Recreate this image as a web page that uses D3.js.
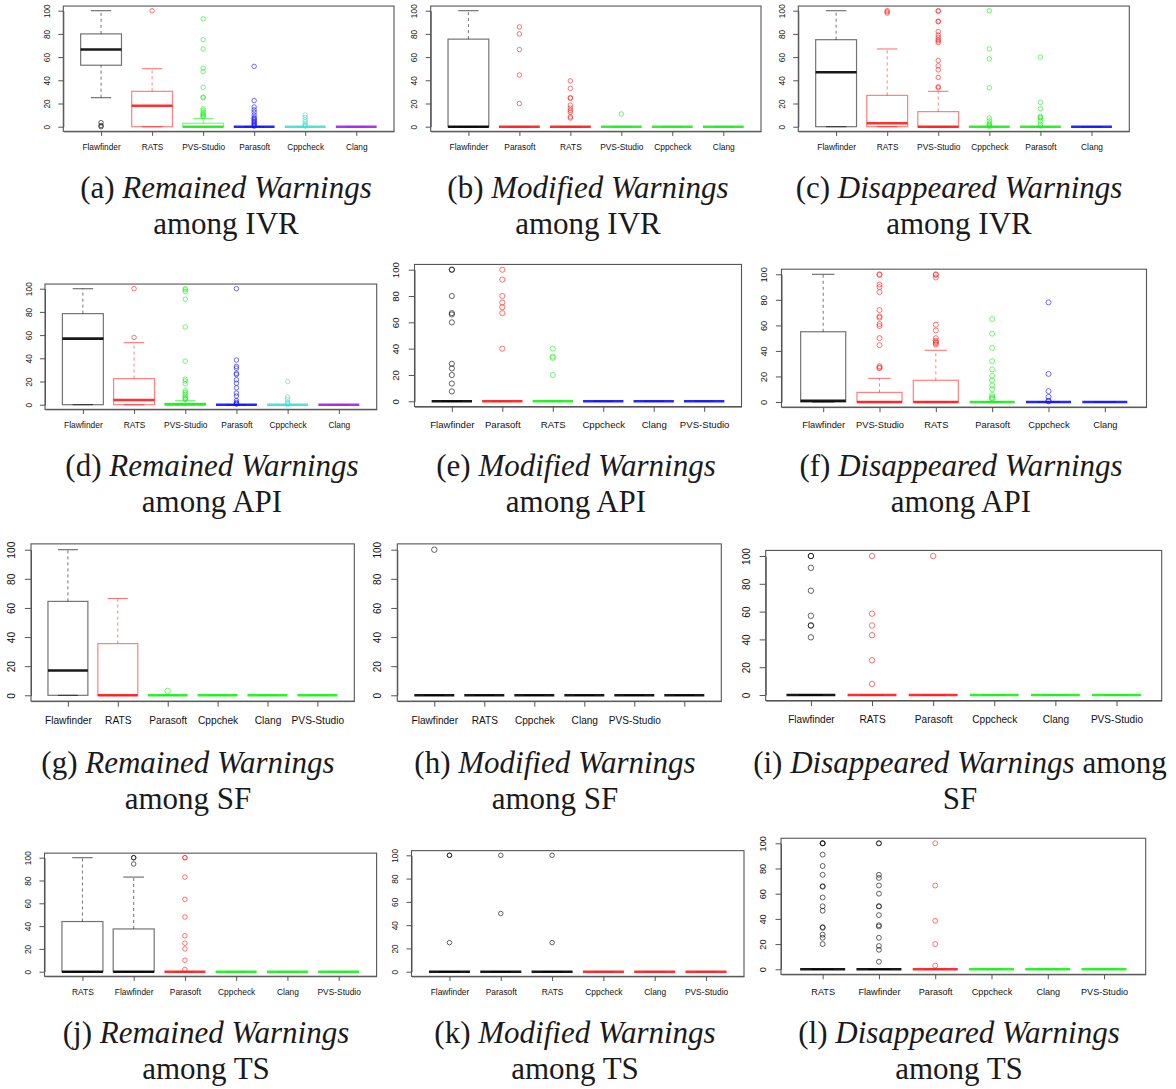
<!DOCTYPE html>
<html>
<head>
<meta charset="utf-8">
<script src="https://cdn.jsdelivr.net/npm/d3@7"></script>
<style>
body { margin: 0; background: #fff; }
svg text { font-family: "Liberation Sans", Arial, sans-serif; fill: #111; }
text.cap { font-family: "Liberation Serif", "Times New Roman", serif; font-size: 31px; fill: #1a1a1a; }
</style>
</head>
<body>
<svg id="fig" width="1176" height="1089"></svg>
<script>
// box stats are [lower whisker, q1, median, q3, upper whisker]
var yTicks = [0, 20, 40, 60, 80, 100];

// (a) Remained Warnings among IVR
var aCats = ["Flawfinder", "RATS", "PVS-Studio", "Parasoft", "Cppcheck", "Clang"];
var aStats = [[25, 53, 66.5, 80, 100], [0, 0, 18, 30.5, 50], [0, 0, 0, 3, 7], [0, 0, 0, 0, 0], [0, 0, 0, 0, 0], [0, 0, 0, 0, 0]];
var aOutliers = [[3.5, 1, 0], [100],
    [93, 75, 67, 50.5, 47.5, 34, 25.5, 25, 15.5, 14, 12, 11, 10, 9, 8.5],
    [52, 22.5, 17, 14.5, 12.5, 10, 8, 7, 6, 5, 4, 3, 2, 1, 0.5],
    [10, 8, 6, 4, 2, 1, 0.5], []];
var aColors = ["black", "red", "green", "blue", "turquoise", "purple"];

// (b) Modified Warnings among IVR
var bCats = ["Flawfinder", "Parasoft", "RATS", "PVS-Studio", "Cppcheck", "Clang"];
var bStats = [[0, 0, 0, 75.5, 100], [0, 0, 0, 0, 0], [0, 0, 0, 0, 0], [0, 0, 0, 0, 0], [0, 0, 0, 0, 0], [0, 0, 0, 0, 0]];
var bOutliers = [[], [86, 80, 66.5, 44.5, 20],
    [39.5, 33, 25, 24.5, 18.5, 16, 14, 12.5, 8.5, 7.5], [11], [], []];
var bColors = ["black", "red", "red", "green", "green", "green"];

// (c) Disappeared Warnings among IVR
var cCats = ["Flawfinder", "RATS", "PVS-Studio", "Cppcheck", "Parasoft", "Clang"];
var cStats = [[0, 0, 47, 75, 100], [0, 0, 3, 27, 67], [0, 0, 0, 13, 30.5], [0, 0, 0, 0, 0], [0, 0, 0, 0, 0], [0, 0, 0, 0, 0]];
var cOutliers = [[], [100, 99, 98],
    [100, 99.5, 91, 90.5, 82, 79, 77, 75, 74, 72.5, 57, 52.5, 49, 42.5, 34.5, 33.5],
    [100, 67, 58.5, 33.5, 7.5, 5, 3, 2, 1, 0],
    [60, 21, 15.5, 9, 8, 7.5, 5, 2, 0.5], []];
var cColors = ["black", "red", "red", "green", "green", "blue"];

// (d) Remained Warnings among API
var dCats = ["Flawfinder", "RATS", "PVS-Studio", "Parasoft", "Cppcheck", "Clang"];
var dStats = [[0, 0, 57, 78.5, 100], [0, 0, 4, 22.5, 53.5], [0, 0, 0.3, 1.2, 3.5], [0, 0, 0, 0, 0], [0, 0, 0, 0, 0], [0, 0, 0, 0, 0]];
var dOutliers = [[], [100, 58],
    [100, 99, 97.5, 91, 67, 37.5, 22, 20.5, 18, 12, 10.5, 9, 7.5, 6, 5, 4.5],
    [100, 38.5, 33, 31.5, 27, 26, 21.5, 18.5, 14.5, 10, 7.5, 3.5, 2, 1, 0.5],
    [20, 6.5, 4.5, 2, 1, 0], []];
var dColors = ["black", "red", "green", "blue", "turquoise", "purple"];

// (e) Modified Warnings among API
var eCats = ["Flawfinder", "Parasoft", "RATS", "Cppcheck", "Clang", "PVS-Studio"];
var eStats = [[0, 0, 0, 0, 0], [0, 0, 0, 0, 0], [0, 0, 0, 0, 0], [0, 0, 0, 0, 0], [0, 0, 0, 0, 0], [0, 0, 0, 0, 0]];
var eOutliers = [[100, 100, 80, 67, 66, 60, 28.5, 25, 20, 13.5, 7.5],
    [100, 92.5, 80, 75, 71.5, 67, 40], [40, 34, 33, 20], [], [], []];
var eColors = ["black", "red", "green", "blue", "blue", "blue"];

// (f) Disappeared Warnings among API
var fCats = ["Flawfinder", "PVS-Studio", "RATS", "Parasoft", "Cppcheck", "Clang"];
var fStats = [[0, 0, 1, 55, 100], [0, 0, 0, 7.5, 18.5], [0, 0, 0, 17, 40.5], [0, 0, 0, 0, 0], [0, 0, 0, 0, 0], [0, 0, 0, 0, 0]];
var fOutliers = [[],
    [100, 99.5, 92, 90, 86, 72, 67, 66, 61, 59.5, 50, 44.5, 28, 27, 26.5],
    [100, 99.5, 97.5, 60.5, 56, 50, 48, 47, 46, 45],
    [65, 53.5, 42.5, 32, 25.5, 20.5, 17, 13, 10, 5.5, 4, 3, 2.5],
    [78, 22, 8.5, 4, 1, 0.5], []];
var fColors = ["black", "red", "red", "green", "blue", "blue"];

// (g) Remained Warnings among SF
var gCats = ["Flawfinder", "RATS", "Parasoft", "Cppchek", "Clang", "PVS-Studio"];
var gStats = [[0, 0, 17, 64.5, 100], [0, 0, 0, 35.5, 66.5], [0, 0, 0, 0, 0], [0, 0, 0, 0, 0], [0, 0, 0, 0, 0], [0, 0, 0, 0, 0]];
var gOutliers = [[], [], [3], [], [], []];
var gColors = ["black", "red", "green", "green", "green", "green"];

// (h) Modified Warnings among SF
var hCats = ["Flawfinder", "RATS", "Cppchek", "Clang", "PVS-Studio", ""];
var hStats = [[0, 0, 0, 0, 0], [0, 0, 0, 0, 0], [0, 0, 0, 0, 0], [0, 0, 0, 0, 0], [0, 0, 0, 0, 0], [0, 0, 0, 0, 0]];
var hOutliers = [[100], [], [], [], [], []];
var hColors = ["black", "black", "black", "black", "black", "black"];

// (i) Disappeared Warnings among SF
var iCats = ["Flawfinder", "RATS", "Parasoft", "Cppcheck", "Clang", "PVS-Studio"];
var iStats = [[0, 0, 0, 0, 0], [0, 0, 0, 0, 0], [0, 0, 0, 0, 0], [0, 0, 0, 0, 0], [0, 0, 0, 0, 0], [0, 0, 0, 0, 0]];
var iOutliers = [[100, 100, 91.5, 75, 57, 50, 50, 41.5], [100, 58.5, 50, 43, 25, 8], [100], [], [], []];
var iColors = ["black", "red", "red", "green", "green", "green"];

// (j) Remained Warnings among TS
var jCats = ["RATS", "Flawfinder", "Parasoft", "Cppcheck", "Clang", "PVS-Studio"];
var jStats = [[0, 0, 0, 44, 100], [0, 0, 0, 37.5, 83], [0, 0, 0, 0, 0], [0, 0, 0, 0, 0], [0, 0, 0, 0, 0], [0, 0, 0, 0, 0]];
var jOutliers = [[], [100, 100, 94.5], [100, 100, 83, 63.5, 48, 31.5, 25, 20, 10, 2], [], [], []];
var jColors = ["black", "black", "red", "green", "green", "green"];

// (k) Modified Warnings among TS
var kCats = ["Flawfinder", "Parasoft", "RATS", "Cppcheck", "Clang", "PVS-Studio"];
var kStats = [[0, 0, 0, 0, 0], [0, 0, 0, 0, 0], [0, 0, 0, 0, 0], [0, 0, 0, 0, 0], [0, 0, 0, 0, 0], [0, 0, 0, 0, 0]];
var kOutliers = [[100, 100, 25], [100, 50], [100, 25], [], [], []];
var kColors = ["black", "black", "black", "red", "red", "red"];

// (l) Disappeared Warnings among TS
var lCats = ["RATS", "Flawfinder", "Parasoft", "Cppcheck", "Clang", "PVS-Studio"];
var lStats = [[0, 0, 0, 0, 0], [0, 0, 0, 0, 0], [0, 0, 0, 0, 0], [0, 0, 0, 0, 0], [0, 0, 0, 0, 0], [0, 0, 0, 0, 0]];
var lOutliers = [[100, 100, 100, 91, 82, 75, 66, 65.5, 57, 50, 46.5, 33.5, 33, 27.5, 25, 20],
    [100, 100, 75, 72.5, 66.5, 60, 50, 50, 43, 35, 34, 25, 18.5, 15.5, 6],
    [100, 66.5, 38.5, 20, 3], [], [], []];
var lColors = ["black", "black", "red", "green", "green", "green"];

var palette = {
    black: "#000000", red: "#ff1a1a", green: "#1aee1a", blue: "#1010ff",
    turquoise: "#40e0d0", purple: "#a020f0"
};

// layout: plot frame left/right, pixel rows of 0 and 100, font size, caption
var panels = [
    { cats: aCats, stats: aStats, out: aOutliers, cols: aColors, x0: 63.3, x1: 394, py0: 126.7, py100: 10.7, fs: 8.3,
      cap: ["(a) ", "Remained Warnings", "", "among IVR"], cx: 226, cy: 198 },
    { cats: bCats, stats: bStats, out: bOutliers, cols: bColors, x0: 430.7, x1: 761, py0: 126.7, py100: 10.7, fs: 8.4,
      cap: ["(b) ", "Modified Warnings", "", "among IVR"], cx: 588, cy: 198 },
    { cats: cCats, stats: cStats, out: cOutliers, cols: cColors, x0: 798.3, x1: 1129.3, py0: 126.7, py100: 10.7, fs: 8.4,
      cap: ["(c) ", "Disappeared Warnings", "", "among IVR"], cx: 959, cy: 198 },
    { cats: dCats, stats: dStats, out: dOutliers, cols: dColors, x0: 45, x1: 376.7, py0: 404.7, py100: 288.7, fs: 8.4,
      cap: ["(d) ", "Remained Warnings", "", "among API"], cx: 212, cy: 476 },
    { cats: eCats, stats: eStats, out: eOutliers, cols: eColors, x0: 414.5, x1: 741.5, py0: 401.3, py100: 269.7, fs: 9.6,
      cap: ["(e) ", "Modified Warnings", "", "among API"], cx: 576, cy: 476 },
    { cats: fCats, stats: fStats, out: fOutliers, cols: fColors, x0: 781.5, x1: 1146.5, py0: 402, py100: 274.3, fs: 9.3,
      cap: ["(f) ", "Disappeared Warnings", "", "among API"], cx: 961, cy: 476 },
    { cats: gCats, stats: gStats, out: gOutliers, cols: gColors, x0: 31, x1: 354.3, py0: 695.3, py100: 549.7, fs: 10.2,
      cap: ["(g) ", "Remained Warnings", "", "among SF"], cx: 188, cy: 773 },
    { cats: hCats, stats: hStats, out: hOutliers, cols: hColors, x0: 397.3, x1: 721.3, py0: 695.3, py100: 549.7, fs: 10.1,
      cap: ["(h) ", "Modified Warnings", "", "among SF"], cx: 555, cy: 773 },
    { cats: iCats, stats: iStats, out: iOutliers, cols: iColors, x0: 765.7, x1: 1161.7, py0: 695, py100: 556, fs: 10.1,
      cap: ["(i) ", "Disappeared Warnings", " among", "SF"], cx: 960, cy: 773 },
    { cats: jCats, stats: jStats, out: jOutliers, cols: jColors, x0: 44.5, x1: 376.6, py0: 971.7, py100: 857.7, fs: 8.4,
      cap: ["(j) ", "Remained Warnings", "", "among TS"], cx: 206, cy: 1043 },
    { cats: kCats, stats: kStats, out: kOutliers, cols: kColors, x0: 411.5, x1: 744, py0: 971.7, py100: 855.3, fs: 8.4,
      cap: ["(k) ", "Modified Warnings", "", "among TS"], cx: 575, cy: 1043 },
    { cats: lCats, stats: lStats, out: lOutliers, cols: lColors, x0: 781, x1: 1145.7, py0: 969.3, py100: 843.3, fs: 9.1,
      cap: ["(l) ", "Disappeared Warnings", "", "among TS"], cx: 959, cy: 1043 }
];

var svg = d3.select("#fig");
svg.append("rect").attr("width", 1176).attr("height", 1089).attr("fill", "#fff");

panels.forEach(drawPanel);

function drawPanel(p) {
    var g = svg.append("g");
    var x = d3.scaleLinear().domain([0.26, 6.74]).range([p.x0, p.x1]);
    var y = d3.scaleLinear().domain([0, 100]).range([p.py0, p.py100]);
    var top = y(104), bottom = y(-4);
    var bw = x(1.4) - x(0.6);
    var r = p.fs * 0.27;

    // frame
    g.append("rect")
        .attr("x", p.x0).attr("y", top)
        .attr("width", p.x1 - p.x0).attr("height", bottom - top)
        .attr("fill", "none").attr("stroke", "#555").attr("stroke-width", 1.1);

    // y axis, labels turned like R's las=0
    var ya = g.append("g")
        .attr("transform", "translate(" + p.x0 + ",0)")
        .call(d3.axisLeft(y).tickValues(yTicks).tickSize(p.fs * 0.6).tickSizeOuter(0));
    ya.selectAll("text")
        .attr("transform", "rotate(-90)")
        .attr("x", 0).attr("y", -p.fs * 1.95).attr("dy", "0.35em")
        .attr("text-anchor", "middle")
        .style("font-size", p.fs + "px")
        .style("font-family", "'Liberation Sans', Arial, sans-serif");

    var xa = g.append("g")
        .attr("transform", "translate(0," + bottom + ")")
        .call(d3.axisBottom(x).tickValues([1, 2, 3, 4, 5, 6])
            .tickFormat(function (d) { return p.cats[d - 1]; })
            .tickSize(p.fs * 0.55).tickSizeOuter(0));
    xa.selectAll("text")
        .attr("y", p.fs * 1.9).attr("dy", "0.35em")
        .style("font-size", p.fs + "px")
        .style("font-family", "'Liberation Sans', Arial, sans-serif");
    g.selectAll(".domain, .tick line").attr("stroke", "#555");

    p.stats.forEach(function (s, i) {
        var cx = x(i + 1);
        var col = palette[p.cols[i]];
        var b = g.append("g");
        // whiskers
        b.append("line")
            .attr("x1", cx).attr("x2", cx).attr("y1", y(s[3])).attr("y2", y(s[4]))
            .attr("stroke", col).attr("stroke-opacity", 0.55).attr("stroke-dasharray", "3,3");
        b.append("line")
            .attr("x1", cx).attr("x2", cx).attr("y1", y(s[0])).attr("y2", y(s[1]))
            .attr("stroke", col).attr("stroke-opacity", 0.55).attr("stroke-dasharray", "3,3");
        [s[0], s[4]].forEach(function (v) {
            b.append("line")
                .attr("x1", cx - bw / 4).attr("x2", cx + bw / 4).attr("y1", y(v)).attr("y2", y(v))
                .attr("stroke", col).attr("stroke-opacity", 0.6).attr("stroke-width", 1.1);
        });
        // box
        b.append("rect")
            .attr("x", cx - bw / 2).attr("y", y(s[3]))
            .attr("width", bw).attr("height", y(s[1]) - y(s[3]))
            .attr("fill", "none").attr("stroke", col).attr("stroke-opacity", 0.55).attr("stroke-width", 1.2);
        // median
        b.append("line")
            .attr("x1", cx - bw / 2).attr("x2", cx + bw / 2).attr("y1", y(s[2])).attr("y2", y(s[2]))
            .attr("stroke", col).attr("stroke-opacity", 0.9).attr("stroke-width", 2.6);
        // outliers
        b.selectAll("circle").data(p.out[i]).enter().append("circle")
            .attr("cx", cx).attr("cy", function (d) { return y(d); })
            .attr("r", r)
            .attr("fill", "none").attr("stroke", col).attr("stroke-opacity", 0.6).attr("stroke-width", 1);
    });

    // caption
    var t1 = svg.append("text").attr("class", "cap")
        .attr("x", p.cx).attr("y", p.cy).attr("text-anchor", "middle");
    t1.append("tspan").text(p.cap[0]);
    t1.append("tspan").attr("font-style", "italic").text(p.cap[1]);
    if (p.cap[2]) t1.append("tspan").text(p.cap[2]);
    svg.append("text").attr("class", "cap")
        .attr("x", p.cx).attr("y", p.cy + 36).attr("text-anchor", "middle")
        .text(p.cap[3]);
}
</script>
</body>
</html>
